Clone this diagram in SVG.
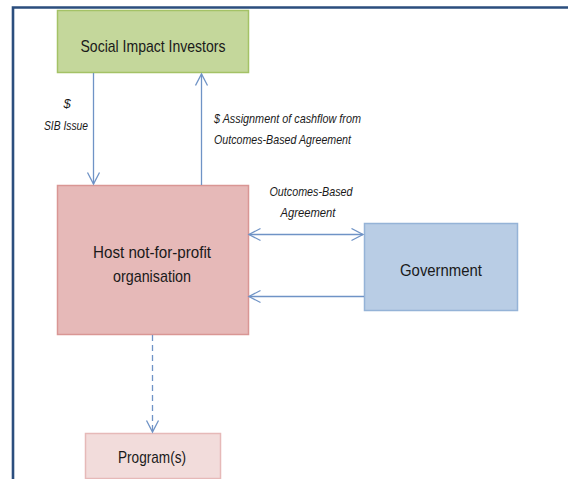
<svg xmlns="http://www.w3.org/2000/svg" width="568" height="479" viewBox="0 0 568 479">
  <style>
    .lbl { font-family: "Liberation Sans", Arial, sans-serif; font-size: 17px; fill: #1a1a1a; text-anchor: middle; }
    .note { font-family: "Liberation Sans", Arial, sans-serif; font-size: 13px; font-style: italic; fill: #1a1a1a; }
    .conn { stroke: #6f93c6; stroke-width: 1.3; fill: none; }
  </style>
  <defs>
    <marker id="open" markerWidth="16" markerHeight="16" refX="12.5" refY="7" orient="auto-start-reverse" markerUnits="userSpaceOnUse">
      <path d="M1,1 L12.5,7 L1,13" fill="none" stroke="#6f93c6" stroke-width="1.3"/>
    </marker>
  </defs>
  <rect x="0" y="0" width="568" height="479" fill="#ffffff"/>
  <!-- outer frame -->
  <path d="M13,479 L13,7.5 L568,7.5" fill="none" stroke="#2b4e7e" stroke-width="2.6"/>

  <g id="investors">
    <rect x="57.5" y="10.5" width="191" height="62" fill="#c4d79b" stroke="#a4c266" stroke-width="1.5"/>
    <text class="lbl" x="153" y="52" textLength="145" lengthAdjust="spacingAndGlyphs">Social Impact Investors</text>
  </g>
  <g id="host">
    <rect x="57.5" y="185.5" width="191" height="149" fill="#e6b9b8" stroke="#d99694" stroke-width="1.5"/>
    <text class="lbl" x="152" y="258" textLength="118" lengthAdjust="spacingAndGlyphs">Host not-for-profit</text>
    <text class="lbl" x="152" y="282" textLength="78" lengthAdjust="spacingAndGlyphs">organisation</text>
  </g>
  <g id="government">
    <rect x="364.5" y="223.5" width="153" height="87" fill="#b9cde5" stroke="#95b3d7" stroke-width="1.5"/>
    <text class="lbl" x="441" y="276" textLength="82" lengthAdjust="spacingAndGlyphs">Government</text>
  </g>
  <g id="programs">
    <rect x="85.5" y="433.5" width="135" height="45" fill="#f2dcdb" stroke="#e6b9b8" stroke-width="1.5"/>
    <text class="lbl" x="152" y="463" textLength="68" lengthAdjust="spacingAndGlyphs">Program(s)</text>
  </g>

  <g id="connectors">
    <line class="conn" x1="93.5" y1="73" x2="93.5" y2="184" marker-end="url(#open)"/>
    <line class="conn" x1="201.5" y1="185" x2="201.5" y2="74" marker-end="url(#open)"/>
    <line class="conn" x1="249" y1="234.5" x2="363" y2="234.5" marker-start="url(#open)" marker-end="url(#open)"/>
    <line class="conn" x1="364" y1="296.5" x2="249" y2="296.5" marker-end="url(#open)"/>
    <line class="conn" x1="152.5" y1="335" x2="152.5" y2="432" stroke-dasharray="6,4" marker-end="url(#open)"/>
  </g>

  <g id="labels">
    <text class="note" x="67" y="108" text-anchor="middle">$</text>
    <text class="note" x="66" y="130" text-anchor="middle" textLength="44" lengthAdjust="spacingAndGlyphs">SIB Issue</text>
    <text class="note" x="214" y="123" textLength="147" lengthAdjust="spacingAndGlyphs">$ Assignment of cashflow from</text>
    <text class="note" x="214" y="144" textLength="137" lengthAdjust="spacingAndGlyphs">Outcomes-Based Agreement</text>
    <text class="note" x="311" y="196" text-anchor="middle" textLength="83" lengthAdjust="spacingAndGlyphs">Outcomes-Based</text>
    <text class="note" x="308" y="217" text-anchor="middle" textLength="55" lengthAdjust="spacingAndGlyphs">Agreement</text>
  </g>
</svg>
